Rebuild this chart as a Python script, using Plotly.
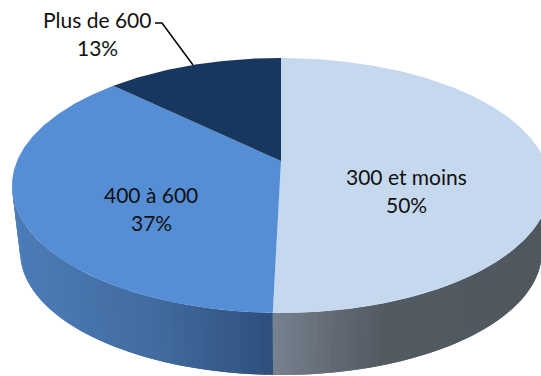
import math
import plotly.graph_objects as go

categories = ["300 et moins", "400 à 600", "Plus de 600"]
values = [50.4, 36.8, 12.8]
top_colors = ["#C5D8EE", "#558ED5", "#17375E"]
label_positions = [(406, 176), (151, 194), (97, 19)]
side_stops = [
    [(273, (120, 130, 142)), (330, (98, 107, 118)), (385, (82, 90, 98)), (541, (80, 88, 95))],
    [(12, (76, 124, 184)), (150, (66, 108, 160)), (273, (46, 79, 124))],
    [(0, (23, 55, 94)), (541, (23, 55, 94))],
]

W, H = 541, 376
CX, K = 281, -0.192
TOP = dict(y0=161, a=122.8, b=264)
BASE = dict(y0=228.3, a=118.5, b=256)
LINE_H = 28
# widest points of the projected circle: the wall is only visible between them
WALL_START = math.acos(K)
WALL_END = 2 * math.pi - WALL_START


def rim(theta, g):
    u, v = math.sin(theta), -math.cos(theta)
    d = 1 + K * v
    return CX + g["b"] * u / d, g["y0"] + g["a"] * v / d


def lerp_color(stops, x):
    if x <= stops[0][0]:
        c = stops[0][1]
    elif x >= stops[-1][0]:
        c = stops[-1][1]
    else:
        for (x0, c0), (x1, c1) in zip(stops, stops[1:]):
            if x0 <= x <= x1:
                t = (x - x0) / (x1 - x0)
                c = tuple(c0[i] + (c1[i] - c0[i]) * t for i in range(3))
                break
    return "rgb(%d,%d,%d)" % tuple(round(p) for p in c)


total = sum(values)
angles = [0]
for val in values:
    angles.append(angles[-1] + val / total * 2 * math.pi)

fig = go.Figure()


def poly(xs, ys, color, width=0):
    fig.add_trace(go.Scatter(
        x=xs, y=ys, mode="lines", fill="toself", fillcolor=color,
        line=dict(color=color, width=width), hoverinfo="skip", showlegend=False,
    ))


# side wall strips (only the visible front half); each strip overlaps the next
for i, val in enumerate(values):
    a0, a1 = angles[i], angles[i + 1]
    lo, hi = max(a0, WALL_START), min(a1, WALL_END)
    if hi <= lo:
        continue
    n = max(2, int((hi - lo) / 0.02))
    step = (hi - lo) / n
    for j in range(n):
        t0 = lo + step * j
        t1 = min(hi, t0 + step * 2)
        arc = [t0 + (t1 - t0) * s / 4 for s in range(5)]
        p = [rim(t, TOP) for t in arc] + [rim(t, BASE) for t in reversed(arc)]
        mx = (rim(t0, TOP)[0] + rim(t0 + step, TOP)[0]) / 2
        color = lerp_color(side_stops[i], mx)
        poly([q[0] for q in p] + [p[0][0]], [q[1] for q in p] + [p[0][1]], color)

# top face
for i, val in enumerate(values):
    a0, a1 = angles[i], angles[i + 1]
    n = max(2, int((a1 - a0) / 0.01))
    pts = [rim(a0 + (a1 - a0) * j / n, TOP) for j in range(n + 1)]
    xs = [CX] + [q[0] for q in pts] + [CX]
    ys = [TOP["y0"]] + [q[1] for q in pts] + [TOP["y0"]]
    poly(xs, ys, top_colors[i])

# leader line for the outside label
fig.add_trace(go.Scatter(
    x=[155, 162, 193], y=[23, 23, 65], mode="lines",
    line=dict(color="#000000", width=1.5), hoverinfo="skip", showlegend=False,
))

annotations = []
for name, val, (lx, ly) in zip(categories, values, label_positions):
    for k, txt in enumerate([name, f"{round(val)}%"]):
        annotations.append(dict(
            x=lx, y=ly + k * LINE_H, xref="x", yref="y", text=txt, showarrow=False,
            xanchor="center", yanchor="middle",
            font=dict(family="Lato", size=21, color="#111111"),
        ))

fig.update_layout(
    width=W, height=H, margin=dict(l=0, r=0, t=0, b=0),
    paper_bgcolor="white", plot_bgcolor="white", showlegend=False,
    xaxis=dict(range=[0, W], visible=False, fixedrange=True),
    yaxis=dict(range=[H, 0], visible=False, fixedrange=True),
    annotations=annotations,
)
fig.write_html(
    "out.html",
    config=dict(displayModeBar=False),
    post_script="document.body.style.margin='0';document.documentElement.style.overflow='hidden';",
)
